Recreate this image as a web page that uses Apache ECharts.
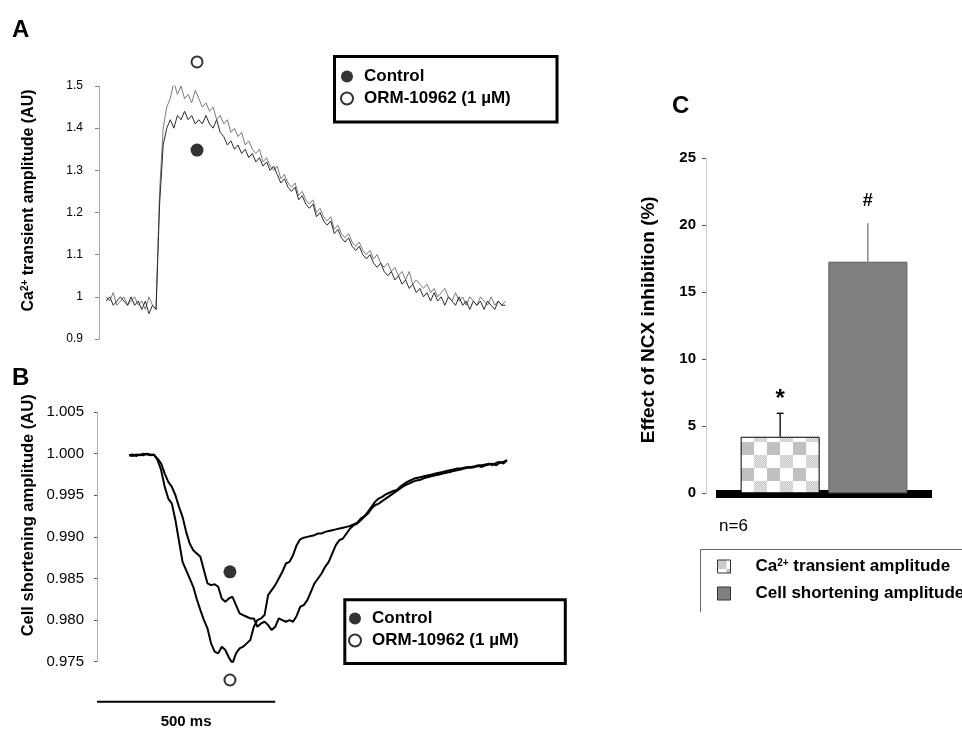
<!DOCTYPE html>
<html>
<head>
<meta charset="utf-8">
<script src="https://cdn.jsdelivr.net/npm/echarts@6/dist/echarts.min.js"></script>
<style>
html,body{margin:0;padding:0;background:#fff;}
#chart{width:962px;height:731px;}
</style>
</head>
<body>
<div id="chart"></div>
<script>
// ---------------- DATA ----------------
// Panel A: Ca2+ transient traces (time in ms)
const timesA = [
20,30,40,50,60,70,80,90,100,110,
120,130,140,150,160,170,180,190,200,210,
220,230,240,250,260,270,280,290,300,310,
320,330,340,350,360,370,380,390,400,410,
420,430,440,450,460,470,480,490,500,510,
520,530,540,550,560,570,580,590,600,610,
620,630,640,650,660,670,680,690,700,710,
720,730,740,750,760,770,780,790,800,810,
820,830,840,850,860,870,880,890,900,910,
920,930,940,950,960,970,980,990,1000,1010,
1020,1030,1040,1050,1060,1070,1080,1090,1100,1110,
1120,1130,1140];
const ormA = [
1.00,0.99,1.01,0.98,0.99,1.00,0.98,0.99,1.00,0.98,
0.99,0.97,1.00,0.98,0.97,1.25,1.40,1.45,1.47,1.51,
1.48,1.50,1.47,1.48,1.46,1.49,1.47,1.45,1.46,1.44,
1.45,1.42,1.43,1.41,1.42,1.39,1.40,1.38,1.39,1.36,
1.37,1.35,1.34,1.35,1.32,1.33,1.31,1.30,1.31,1.28,
1.29,1.27,1.26,1.27,1.24,1.25,1.23,1.22,1.23,1.20,
1.21,1.19,1.18,1.19,1.16,1.17,1.15,1.14,1.15,1.13,
1.12,1.13,1.11,1.10,1.11,1.09,1.10,1.08,1.07,1.08,
1.06,1.07,1.05,1.06,1.04,1.06,1.03,1.04,1.03,1.02,
1.03,1.01,1.02,1.00,1.01,1.02,1.00,0.99,1.01,0.99,
1.00,0.98,1.00,0.99,0.98,1.00,0.99,0.98,1.00,0.98,
0.99,0.98,0.99];
const controlA = [
0.99,1.00,0.98,0.99,1.00,0.99,0.98,1.00,0.98,0.99,
0.97,0.99,0.96,0.98,0.97,1.22,1.36,1.40,1.42,1.40,
1.43,1.42,1.44,1.42,1.43,1.41,1.42,1.41,1.43,1.41,
1.40,1.42,1.39,1.38,1.36,1.37,1.35,1.36,1.34,1.35,
1.33,1.34,1.32,1.33,1.31,1.32,1.30,1.31,1.29,1.27,
1.28,1.26,1.25,1.26,1.23,1.24,1.22,1.21,1.22,1.19,
1.20,1.18,1.17,1.18,1.15,1.16,1.14,1.13,1.14,1.12,
1.11,1.12,1.10,1.09,1.10,1.08,1.07,1.08,1.06,1.05,
1.06,1.04,1.05,1.03,1.04,1.02,1.03,1.01,1.02,1.00,
1.01,0.99,1.01,0.99,1.00,0.98,1.00,0.99,0.98,1.00,
0.98,0.99,0.97,0.99,0.98,0.99,0.97,0.99,0.98,0.97,
0.99,0.98,0.98];
const markerTimeA = 275;
const controlMarkerA = 1.348;
const ormMarkerA = 1.557;

// Panel B: cell shortening traces (time in ms)
const timesB = [
90,100,110,120,130,140,150,160,170,180,
190,200,210,220,230,240,250,260,270,280,
290,300,310,320,330,340,350,360,370,380,
390,400,410,420,430,440,450,460,470,480,
490,500,510,520,530,540,550,560,570,580,
590,600,610,620,630,640,650,660,670,680,
690,700,710,720,730,740,750,760,770,780,
790,800,810,820,830,840,850,860,870,880,
890,900,910,920,930,940,950,960,970,980,
990,1000,1010,1020,1030,1040,1050,1060,1070,1080,
1090,1100,1110,1120,1130,1140,1150];
const ormB = [
0.9998,0.9997,0.9999,0.9998,1.0000,0.9999,0.9998,0.9999,0.9992,0.9980,
0.9960,0.9946,0.9940,0.9920,0.9895,0.9870,0.9860,0.9850,0.9840,0.9825,
0.9812,0.9800,0.9790,0.9772,0.9762,0.9760,0.9768,0.9764,0.9755,0.9748,
0.9760,0.9766,0.9768,0.9772,0.9776,0.9792,0.9800,0.9802,0.9806,0.9830,
0.9836,0.9842,0.9850,0.9858,0.9868,0.9870,0.9878,0.9890,0.9897,0.9899,
0.9900,0.9901,0.9902,0.9904,0.9904,0.9906,0.9907,0.9908,0.9909,0.9910,
0.9911,0.9912,0.9913,0.9915,0.9917,0.9922,0.9925,0.9930,0.9936,0.9942,
0.9946,0.9948,0.9951,0.9953,0.9955,0.9956,0.9960,0.9963,0.9966,0.9968,
0.9970,0.9971,0.9972,0.9973,0.9974,0.9975,0.9976,0.9977,0.9978,0.9979,
0.9980,0.9981,0.9982,0.9982,0.9983,0.9984,0.9984,0.9985,0.9986,0.9986,
0.9987,0.9988,0.9986,0.9989,0.9990,0.9988,0.9992];
const controlB = [
0.9998,0.9999,0.9997,0.9999,0.9998,1.0000,0.9999,0.9998,0.9994,0.9988,
0.9976,0.9966,0.9960,0.9950,0.9936,0.9924,0.9906,0.9892,0.9884,0.9880,
0.9876,0.9860,0.9844,0.9842,0.9843,0.9840,0.9826,0.9822,0.9826,0.9828,
0.9818,0.9808,0.9806,0.9804,0.9802,0.9802,0.9792,0.9796,0.9798,0.9794,
0.9788,0.9792,0.9802,0.9800,0.9798,0.9800,0.9798,0.9805,0.9816,0.9818,
0.9824,0.9834,0.9844,0.9850,0.9856,0.9864,0.9870,0.9880,0.9890,0.9896,
0.9898,0.9904,0.9910,0.9914,0.9916,0.9920,0.9924,0.9928,0.9934,0.9938,
0.9940,0.9943,0.9946,0.9949,0.9952,0.9955,0.9958,0.9961,0.9963,0.9965,
0.9967,0.9968,0.9969,0.9971,0.9972,0.9973,0.9974,0.9975,0.9976,0.9977,
0.9978,0.9979,0.9980,0.9981,0.9982,0.9983,0.9983,0.9984,0.9985,0.9984,
0.9986,0.9987,0.9988,0.9986,0.9989,0.9990,0.9992];
const markerTimeB = 373;
const controlMarkerB = 0.9858;
const ormMarkerB = 0.9728;
const scaleBarMs = 500;

// Panel C: effect of NCX inhibition (%)
const barCategories = ['Ca2+ transient amplitude', 'Cell shortening amplitude'];
const barMeans = [4.22, 17.28];
const barErrors = [1.75, 2.87];
const sigMarks = ['*', '#'];
const nLabel = 'n=6';

const legendNames = ['Control', 'ORM-10962 (1 \u00b5M)'];

// ---------------- STYLE ----------------
const FONT = '"Liberation Sans", Arial, Helvetica, sans-serif';
const BAR_W = 79;
const BAR_GAP = 0.11;
const SCALE_BAR_Y = 0.9702;

function zip(t, v) { return t.map((x, i) => [x, v[i]]).filter(p => p[1] !== undefined); }

function makeChecker(s) {
  const c = document.createElement('canvas');
  c.width = 2 * s; c.height = 2 * s;
  const ctx = c.getContext('2d');
  ctx.fillStyle = '#ffffff';
  ctx.fillRect(0, 0, 2 * s, 2 * s);
  for (let y = 0; y < s; y++) {
    for (let x = 0; x < s; x++) {
      ctx.fillStyle = ((x + y) % 2 === 0) ? '#c4c4c4' : '#e8e8e8';
      ctx.fillRect(x, y + s, 1, 1);
    }
  }
  ctx.fillStyle = '#c0c0c0';
  ctx.fillRect(s, 0, s, s);
  return c;
}
function makeIcon() {
  // small swatch: dotted upper-left, white, grey lower-right
  const s = 13;
  const c = document.createElement('canvas');
  c.width = s; c.height = s;
  const ctx = c.getContext('2d');
  ctx.fillStyle = '#ffffff';
  ctx.fillRect(0, 0, s, s);
  for (let y = 0; y < 9; y++) {
    for (let x = 0; x < 9; x++) {
      ctx.fillStyle = ((x + y) % 2 === 0) ? '#b8b8b8' : '#e0e0e0';
      ctx.fillRect(x, y, 1, 1);
    }
  }
  ctx.fillStyle = '#c0c0c0';
  ctx.fillRect(9, 9, 4, 4);
  return c;
}

const chart = echarts.init(document.getElementById('chart'), null, { renderer: 'canvas' });

const boldTxt = { fontFamily: FONT, fontWeight: 'bold', color: '#000' };
const supRich = {
  b: { fontFamily: FONT, fontWeight: 'bold', fontSize: 16, color: '#000' },
  sup: { fontFamily: FONT, fontWeight: 'bold', fontSize: 10, color: '#000', verticalAlign: 'top', padding: [0, 0, 7, 0] }
};
const supRichC = {
  b: { fontFamily: FONT, fontWeight: 'bold', fontSize: 17, color: '#000' },
  sup: { fontFamily: FONT, fontWeight: 'bold', fontSize: 10, color: '#000', verticalAlign: 'top', padding: [0, 0, 7, 0] }
};

function renderErr(params, api) {
  const i = api.value(3);
  const base = api.coord([api.value(0), api.value(1)]);
  const top = api.coord([api.value(0), api.value(1) + api.value(2)]);
  const half = BAR_W * (1 + BAR_GAP) / 2;
  const x = base[0] + (i === 0 ? -half : half);
  const col = i === 0 ? '#000' : '#777';
  const children = [
    { type: 'line', shape: { x1: x, y1: base[1], x2: x, y2: top[1] }, style: { stroke: col, lineWidth: 1.3 } }
  ];
  if (i === 0) {
    children.push({ type: 'line', shape: { x1: x - 3.5, y1: top[1], x2: x + 3.5, y2: top[1] }, style: { stroke: col, lineWidth: 1.3 } });
  }
  children.push({
    type: 'text', x: x, y: top[1] - (i === 0 ? 14 : 22),
    style: { text: sigMarks[i], fontFamily: FONT, fontWeight: 'bold', fontSize: i === 0 ? 24 : 18, fill: '#000', align: 'center', verticalAlign: 'middle' }
  });
  return { type: 'group', children: children };
}

const option = {
  animation: false,
  backgroundColor: '#ffffff',
  textStyle: { fontFamily: FONT },
  title: [
    { text: 'A', left: 12, top: 18, padding: 0, textStyle: Object.assign({ fontSize: 24 }, boldTxt) },
    { text: 'B', left: 12, top: 366, padding: 0, textStyle: Object.assign({ fontSize: 24 }, boldTxt) },
    { text: 'C', left: 672, top: 94, padding: 0, textStyle: Object.assign({ fontSize: 24 }, boldTxt) },
    { text: nLabel, left: 719, top: 518, padding: 0, textStyle: { fontFamily: FONT, fontSize: 17, fontWeight: 'normal', color: '#000' } }
  ],
  legend: [
    {
      data: legendNames, orient: 'vertical', left: 340, top: 68, padding: 0,
      itemWidth: 24, itemHeight: 12, itemGap: 5, selectedMode: false,
      textStyle: Object.assign({ fontSize: 17 }, boldTxt)
    },
    {
      data: legendNames, orient: 'vertical', left: 348, top: 610, padding: 0,
      itemWidth: 24, itemHeight: 12, itemGap: 5, selectedMode: false,
      textStyle: Object.assign({ fontSize: 17 }, boldTxt)
    },
    {
      data: [
        { name: barCategories[0], itemStyle: { color: { image: makeIcon(), repeat: 'no-repeat' }, borderColor: '#333', borderWidth: 1 } },
        { name: barCategories[1], itemStyle: { color: '#808080', borderColor: '#333', borderWidth: 1 } }
      ],
      orient: 'vertical', left: 717, top: 558, padding: 0,
      itemWidth: 13, itemHeight: 13, itemGap: 10, icon: 'rect', selectedMode: false,
      formatter: function (name) {
        if (name.indexOf('Ca2+') === 0) return '{b|Ca}{sup|2+}{b|' + name.slice(4) + '}';
        return '{b|' + name + '}';
      },
      textStyle: Object.assign({ fontSize: 17, padding: [0, 0, 0, 20], rich: supRichC }, boldTxt)
    }
  ],
  graphic: [
    { type: 'rect', shape: { x: 334.5, y: 56.5, width: 222.5, height: 65.5 }, style: { fill: 'none', stroke: '#000', lineWidth: 3 }, silent: true },
    { type: 'rect', shape: { x: 344.8, y: 599.8, width: 220.5, height: 63.7 }, style: { fill: 'none', stroke: '#000', lineWidth: 3 }, silent: true },
    { type: 'polyline', shape: { points: [[700.5, 612], [700.5, 549.5], [962, 549.5]] }, style: { fill: 'none', stroke: '#666', lineWidth: 1 }, silent: true }
  ],
  grid: [
    { left: 99, top: 86, width: 410, height: 253, containLabel: false, outerBoundsMode: 'none' },
    { left: 97, top: 412, width: 413.5, height: 249.7, containLabel: false, outerBoundsMode: 'none' },
    { left: 716, top: 158.3, width: 216, height: 335, containLabel: false, outerBoundsMode: 'none' }
  ],
  xAxis: [
    { gridIndex: 0, type: 'value', min: 0, max: 1150, show: false },
    { gridIndex: 1, type: 'value', min: 0, max: 1160, show: false },
    {
      gridIndex: 2, type: 'category', data: ['NCX'], offset: 4,
      axisLine: { show: true, lineStyle: { color: '#000', width: 8, cap: 'butt' } },
      axisTick: { show: false }, axisLabel: { show: false }, splitLine: { show: false }
    }
  ],
  yAxis: [
    {
      gridIndex: 0, type: 'value', min: 0.9, max: 1.5, interval: 0.1,
      axisLine: { show: true, lineStyle: { color: '#a8a8a8', width: 1 } },
      axisTick: { show: true, inside: false, length: 4, lineStyle: { color: '#888' } },
      splitLine: { show: false },
      axisLabel: {
        margin: 16, fontSize: 12, color: '#000', fontFamily: FONT,
        formatter: function (v) { const r = Math.round(v * 10) / 10; return r === 1 ? '1' : r.toFixed(1); }
      },
      name: '{b|Ca}{sup|2+}{b| transient amplitude (AU)}', nameLocation: 'middle', nameGap: 62, nameRotate: 90,
      nameTextStyle: { rich: supRich, padding: [0, 0, 0, 24] }
    },
    {
      gridIndex: 1, type: 'value', min: 0.975, max: 1.005, interval: 0.005,
      axisLine: { show: true, lineStyle: { color: '#b0b0b0', width: 1 } },
      axisTick: { show: true, inside: false, length: 3, lineStyle: { color: '#555' } },
      splitLine: { show: false },
      axisLabel: { margin: 13, fontSize: 15, color: '#000', fontFamily: FONT, formatter: function (v) { return v.toFixed(3); } },
      name: 'Cell shortening amplitude (AU)', nameLocation: 'middle', nameGap: 60, nameRotate: 90,
      nameTextStyle: { fontFamily: FONT, fontWeight: 'bold', fontSize: 16.5, color: '#000', padding: [0, 0, 0, 43] }
    },
    {
      gridIndex: 2, type: 'value', min: 0, max: 25, interval: 5, offset: 10,
      axisLine: { show: true, lineStyle: { color: '#cccccc', width: 1 } },
      axisTick: { show: true, inside: false, length: 4, lineStyle: { color: '#555' } },
      splitLine: { show: false },
      axisLabel: { margin: 10, fontSize: 15, fontWeight: 'bold', color: '#000', fontFamily: FONT },
      name: 'Effect of NCX inhibition (%)', nameLocation: 'middle', nameGap: 48, nameRotate: 90,
      nameTextStyle: { fontFamily: FONT, fontWeight: 'bold', fontSize: 19, color: '#000', padding: [0, 0, 0, 12] }
    }
  ],
  series: [
    { name: 'A-orm', type: 'line', xAxisIndex: 0, yAxisIndex: 0, data: zip(timesA, ormA), showSymbol: false, silent: true,
      lineStyle: { color: '#7a7a7a', width: 1 }, z: 2 },
    { name: 'A-control', type: 'line', xAxisIndex: 0, yAxisIndex: 0, data: zip(timesA, controlA), showSymbol: false, silent: true,
      lineStyle: { color: '#2a2a2a', width: 1 }, z: 2 },
    { name: legendNames[0], type: 'scatter', xAxisIndex: 0, yAxisIndex: 0, clip: false, symbol: 'circle', symbolSize: 13,
      itemStyle: { color: '#000' }, data: [[markerTimeA, controlMarkerA]], z: 5 },
    { name: legendNames[1], type: 'scatter', xAxisIndex: 0, yAxisIndex: 0, clip: false, symbol: 'circle', symbolSize: 11,
      itemStyle: { color: '#fff', borderColor: '#000', borderWidth: 2 }, data: [[markerTimeA, ormMarkerA]], z: 5 },
    { name: 'B-orm', type: 'line', xAxisIndex: 1, yAxisIndex: 1, data: zip(timesB, ormB), showSymbol: false, silent: true,
      lineStyle: { color: '#000', width: 2 }, z: 2 },
    { name: 'B-control', type: 'line', xAxisIndex: 1, yAxisIndex: 1, data: zip(timesB, controlB), showSymbol: false, silent: true,
      lineStyle: { color: '#000', width: 2 }, z: 2 },
    { name: legendNames[0], type: 'scatter', xAxisIndex: 1, yAxisIndex: 1, clip: false, symbol: 'circle', symbolSize: 13,
      itemStyle: { color: '#000' }, data: [[markerTimeB, controlMarkerB]], z: 5 },
    { name: legendNames[1], type: 'scatter', xAxisIndex: 1, yAxisIndex: 1, clip: false, symbol: 'circle', symbolSize: 11,
      itemStyle: { color: '#fff', borderColor: '#000', borderWidth: 2 }, data: [[markerTimeB, ormMarkerB]], z: 5 },
    { name: 'scalebar', type: 'line', xAxisIndex: 1, yAxisIndex: 1, clip: false, silent: true,
      symbol: 'circle', symbolSize: 0, showSymbol: true,
      lineStyle: { color: '#000', width: 2 },
      data: [
        [0, SCALE_BAR_Y],
        { value: [scaleBarMs / 2, SCALE_BAR_Y], label: { show: true, position: 'bottom', distance: 13, formatter: scaleBarMs + ' ms',
          fontFamily: FONT, fontSize: 15, fontWeight: 'bold', color: '#000' } },
        [scaleBarMs, SCALE_BAR_Y]
      ] },
    { name: barCategories[0], type: 'bar', xAxisIndex: 2, yAxisIndex: 2, barWidth: BAR_W, barGap: (BAR_GAP * 100) + '%',
      data: [barMeans[0]], silent: true,
      itemStyle: { color: { image: makeChecker(13), repeat: 'repeat' }, borderColor: '#000', borderWidth: 1 } },
    { name: barCategories[1], type: 'bar', xAxisIndex: 2, yAxisIndex: 2, barWidth: BAR_W, barGap: (BAR_GAP * 100) + '%',
      data: [barMeans[1]], silent: true,
      itemStyle: { color: '#808080', borderColor: '#5a5a5a', borderWidth: 1 } },
    { name: 'errors', type: 'custom', xAxisIndex: 2, yAxisIndex: 2, silent: true, clip: false,
      renderItem: renderErr,
      data: barMeans.map((m, i) => [0, m, barErrors[i], i]), z: 4 }
  ]
};

chart.setOption(option);
</script>
</body>
</html>
